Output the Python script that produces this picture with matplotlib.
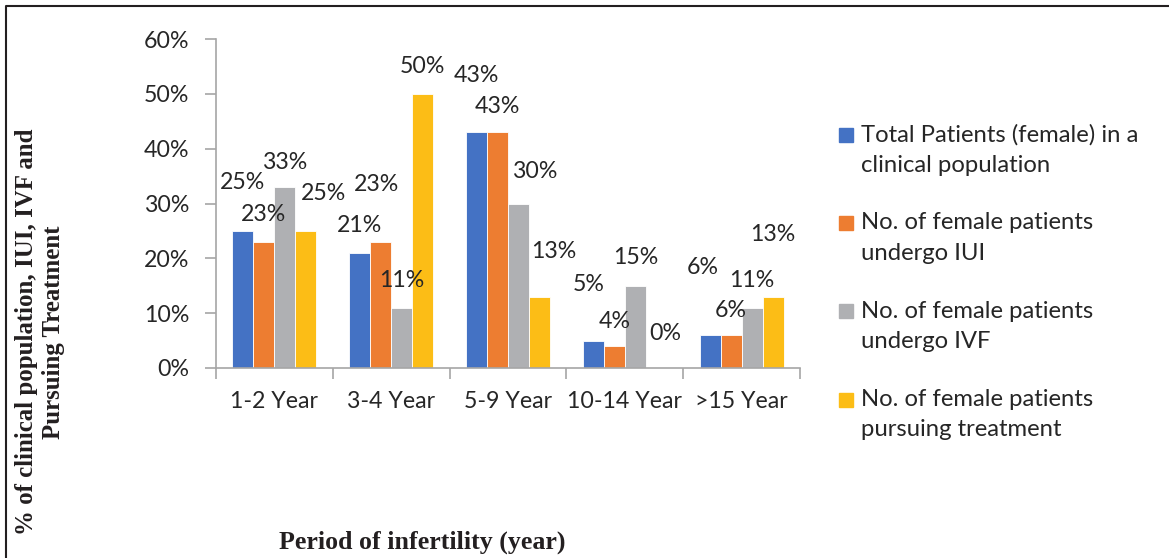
import numpy as np
import matplotlib.pyplot as plt
from matplotlib.patches import Rectangle
from matplotlib.lines import Line2D
from matplotlib.ticker import FuncFormatter

# data (% of patients per period of infertility)
periods = ["1-2 Year", "3-4 Year", "5-9 Year", "10-14 Year", ">15 Year"]
total_female = [25, 21, 43, 5, 6]
iui = [23, 23, 43, 4, 6]
ivf = [33, 11, 30, 15, 11]
pursuing = [25, 50, 13, 0, 13]

series_names = [
    "Total Patients (female) in a\nclinical population",
    "No. of female patients\nundergo IUI",
    "No. of female patients\nundergo IVF",
    "No. of female patients\npursuing treatment",
]
colors = ["#4472C4", "#ED7D31", "#AFB0B3", "#FCBD16"]

# label offsets in pixels (dx, dy) from the top of each bar, per series
label_offsets = [
    [(0, 48), (0, 27), (0, 57), (-5, 56), (-7, 68)],
    [(0, 27), (-4, 57), (0, 26), (0, 25), (0, 25)],
    [(0, 25), (0, 27), (16, 32), (0, 28), (0, 27)],
    [(18, 37), (0, 27), (14, 45), (9, 34), (0, 62)],
]

W, H = 1169, 558
fig = plt.figure(figsize=(W / 100, H / 100), dpi=100)
txt_color = "#262626"
sans = ["Lato", "DejaVu Sans"]
serif = ["Liberation Serif", "DejaVu Serif"]
fs = 16.7


def fx(x):
    return x / W


def fy(y):
    return 1 - y / H


ax = fig.add_axes([fx(216), fy(368), (800 - 216) / W, (368 - 39) / H])

x = np.arange(len(periods))
bw = 0.18
all_series = [total_female, iui, ivf, pursuing]
for i, vals in enumerate(all_series):
    xs = x + (i - 1.5) * bw
    ax.bar(xs, vals, width=bw, color=colors[i], edgecolor="white", linewidth=0.6, zorder=2)
    for j, v in enumerate(vals):
        dx, dy = label_offsets[i][j]
        ax.annotate(f"{v}%", (xs[j], v), xytext=(dx, dy), textcoords="offset pixels",
                    ha="center", va="center", fontsize=fs, color=txt_color,
                    family=sans)

ax.set_xlim(-0.5, len(periods) - 0.5)
ax.set_ylim(0, 60)
ax.set_yticks(np.arange(0, 61, 10))
ax.yaxis.set_major_formatter(FuncFormatter(lambda v, p: f"{int(v)}%"))
ax.set_xticks(x)
ax.set_xticklabels(periods)
ax.set_xticks(np.arange(-0.5, len(periods), 1), minor=True)
ax.tick_params(axis="x", which="major", length=0, pad=16.5, labelsize=fs, labelcolor=txt_color)
ax.tick_params(axis="x", which="minor", length=8, color="#A6A6A6", width=1.2)
ax.tick_params(axis="y", length=8, color="#A6A6A6", width=1.2, pad=11, labelsize=fs,
               labelcolor=txt_color)
for lab in ax.get_xticklabels() + ax.get_yticklabels():
    lab.set_family(sans)
for s in ["top", "right"]:
    ax.spines[s].set_visible(False)
for s in ["left", "bottom"]:
    ax.spines[s].set_color("#A6A6A6")
    ax.spines[s].set_linewidth(1.2)

# legend drawn by hand so that the swatch lines up with the first text line
leg_y = [135, 223, 311, 400]
for i, name in enumerate(series_names):
    y0 = leg_y[i]
    fig.add_artist(Rectangle((fx(839), fy(y0 + 7)), 14 / W, 14 / H, transform=fig.transFigure,
                             color=colors[i]))
    for k, line in enumerate(name.split("\n")):
        fig.text(fx(861), fy(y0 + 30 * k), line, ha="left", va="center", fontsize=17.2,
                 color=txt_color, family=sans)

# axis titles
fig.text(fx(40), fy(332), "% of clinical population, IUI, IVF and\nPursuing Treatment",
         rotation=90, ha="center", va="center", multialignment="center", linespacing=1.2,
         fontsize=17.9, fontweight="bold", family=serif, color="#231F20")
fig.text(fx(422), fy(542), "Period of infertility (year)", ha="center", va="center",
         fontsize=18.6, fontweight="bold", family=serif, color="#231F20")

# outer frame (left and top edges)
fig.add_artist(Line2D([fx(6), fx(6), 1], [0, fy(6), fy(6)], transform=fig.transFigure,
                      color="#231F20", linewidth=1.5))

fig.savefig("out.png", dpi=100)
